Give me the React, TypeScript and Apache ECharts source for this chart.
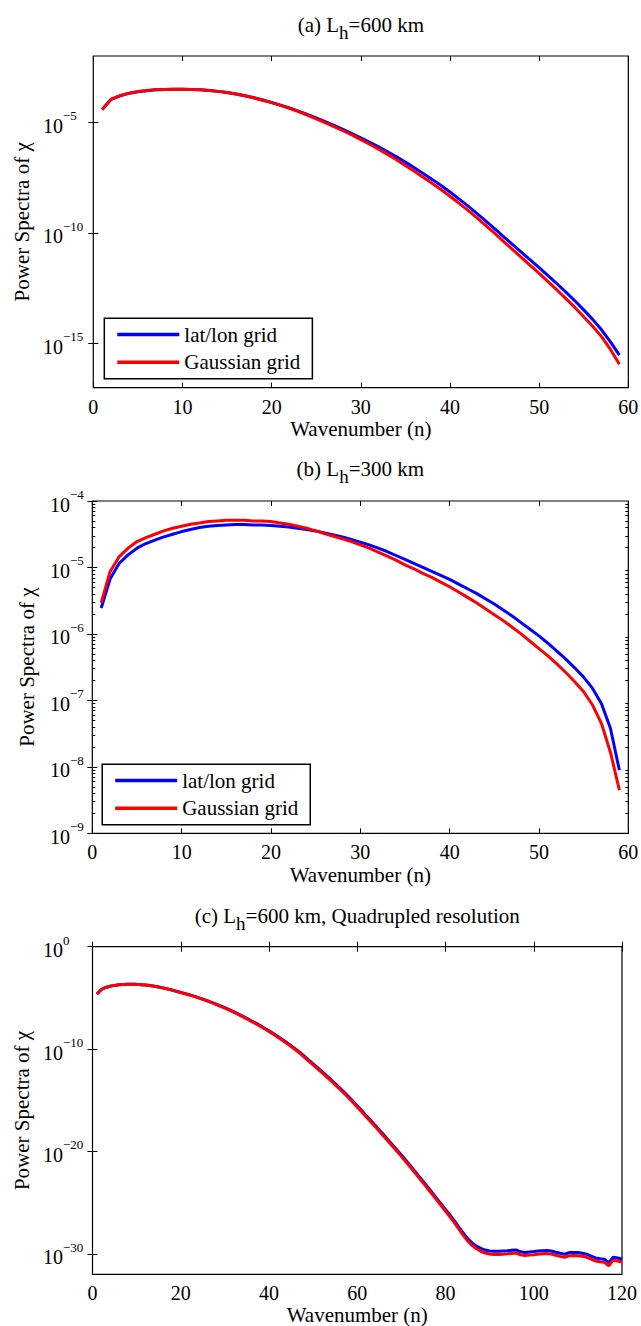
import React, { useEffect, useRef } from "react";
import * as echarts from "echarts";

// Power spectra of velocity potential chi, stored as log10 of the spectral power.
const seriesNames = ["lat/lon grid", "Gaussian grid"];

// (a) L_h = 600 km, wavenumbers 1..59
const latLonA = [
  -4.42, -3.96, -3.8, -3.69, -3.62, -3.57, -3.53, -3.51, -3.5, -3.5,
  -3.51, -3.53, -3.56, -3.6, -3.65, -3.72, -3.8, -3.89, -3.99, -4.1,
  -4.22, -4.35, -4.49, -4.64, -4.8, -4.97, -5.14, -5.32, -5.51, -5.7,
  -5.9, -6.11, -6.33, -6.56, -6.8, -7.05, -7.31, -7.58, -7.86, -8.15,
  -8.46, -8.78, -9.12, -9.46, -9.81, -10.17, -10.52, -10.87, -11.22, -11.57,
  -11.93, -12.3, -12.68, -13.07, -13.48, -13.91, -14.38, -14.93, -15.53,
];
const gaussianA = [
  -4.42, -3.95, -3.79, -3.68, -3.61, -3.56, -3.53, -3.51, -3.5, -3.5,
  -3.51, -3.53, -3.56, -3.6, -3.65, -3.72, -3.8, -3.89, -4.0, -4.11,
  -4.23, -4.37, -4.51, -4.67, -4.84, -5.01, -5.19, -5.38, -5.57, -5.78,
  -5.99, -6.21, -6.45, -6.69, -6.95, -7.21, -7.48, -7.76, -8.04, -8.34,
  -8.65, -8.97, -9.31, -9.66, -10.01, -10.38, -10.74, -11.11, -11.47, -11.83,
  -12.2, -12.58, -12.97, -13.37, -13.79, -14.22, -14.69, -15.27, -15.94,
];

// (b) L_h = 300 km, wavenumbers 1..59
const latLonB = [
  -5.61, -5.17, -4.94, -4.81, -4.71, -4.64, -4.59, -4.54, -4.5, -4.46,
  -4.43, -4.4, -4.38, -4.37, -4.36, -4.355, -4.355, -4.36, -4.36, -4.37,
  -4.38, -4.39, -4.41, -4.43, -4.45, -4.48, -4.51, -4.54, -4.58, -4.62,
  -4.66, -4.71, -4.76, -4.82, -4.88, -4.94, -5.0, -5.06, -5.12, -5.18,
  -5.25, -5.32, -5.39, -5.47, -5.55, -5.64, -5.73, -5.83, -5.93, -6.03,
  -6.14, -6.26, -6.38, -6.51, -6.65, -6.82, -7.05, -7.42, -8.05,
];
const gaussianB = [
  -5.53, -5.06, -4.84, -4.71, -4.61, -4.55, -4.5, -4.45, -4.41, -4.38,
  -4.35, -4.33, -4.31, -4.3, -4.29, -4.29, -4.29, -4.3, -4.3, -4.31,
  -4.33, -4.35, -4.38, -4.41, -4.45, -4.49, -4.53, -4.57, -4.61, -4.66,
  -4.71, -4.77, -4.83, -4.89, -4.96, -5.02, -5.09, -5.15, -5.22, -5.29,
  -5.37, -5.45, -5.53, -5.62, -5.71, -5.8, -5.9, -6.0, -6.11, -6.22,
  -6.33, -6.45, -6.58, -6.72, -6.87, -7.07, -7.35, -7.78, -8.35,
];

// (c) L_h = 600 km, quadrupled resolution, wavenumbers 1..120
const latLonC = [
  -4.62, -4.18, -3.98, -3.86, -3.78, -3.72, -3.69, -3.67, -3.67, -3.68,
  -3.71, -3.75, -3.8, -3.86, -3.93, -4.02, -4.12, -4.23, -4.35, -4.47,
  -4.58, -4.7, -4.83, -4.97, -5.12, -5.27, -5.43, -5.6, -5.78, -5.96,
  -6.15, -6.35, -6.56, -6.78, -7.0, -7.23, -7.47, -7.71, -7.96, -8.22,
  -8.49, -8.77, -9.06, -9.36, -9.67, -9.99, -10.32, -10.7, -11.08, -11.45,
  -11.82, -12.2, -12.58, -12.97, -13.37, -13.78, -14.2, -14.63, -15.08, -15.55,
  -16.01, -16.48, -16.95, -17.42, -17.9, -18.38, -18.87, -19.36, -19.85, -20.35,
  -20.86, -21.38, -21.9, -22.43, -22.96, -23.5, -24.04, -24.58, -25.12, -25.66,
  -26.21, -26.77, -27.36, -27.96, -28.5, -28.93, -29.25, -29.47, -29.63, -29.73,
  -29.76, -29.76, -29.73, -29.7, -29.66, -29.62, -29.8, -29.87, -29.82, -29.78,
  -29.73, -29.69, -29.68, -29.72, -29.84, -29.95, -30.04, -29.88, -29.86, -29.88,
  -29.94, -30.04, -30.22, -30.4, -30.48, -30.53, -30.86, -30.33, -30.4, -30.5,
];
const gaussianC = [
  -4.62, -4.18, -3.98, -3.86, -3.78, -3.72, -3.69, -3.67, -3.67, -3.68,
  -3.71, -3.75, -3.8, -3.87, -3.94, -4.03, -4.13, -4.24, -4.36, -4.48,
  -4.6, -4.72, -4.85, -4.99, -5.15, -5.3, -5.46, -5.64, -5.82, -6.0,
  -6.19, -6.4, -6.61, -6.83, -7.05, -7.29, -7.53, -7.77, -8.02, -8.28,
  -8.56, -8.84, -9.13, -9.43, -9.75, -10.07, -10.41, -10.79, -11.17, -11.55,
  -11.93, -12.31, -12.69, -13.09, -13.49, -13.9, -14.32, -14.75, -15.2, -15.67,
  -16.13, -16.6, -17.07, -17.55, -18.03, -18.51, -19.0, -19.49, -19.98, -20.48,
  -21.0, -21.52, -22.04, -22.57, -23.1, -23.64, -24.18, -24.73, -25.28, -25.83,
  -26.39, -26.96, -27.56, -28.17, -28.73, -29.18, -29.51, -29.75, -29.92, -30.02,
  -30.06, -30.06, -30.03, -30.0, -29.96, -29.92, -30.1, -30.17, -30.12, -30.08,
  -30.03, -29.99, -29.98, -30.02, -30.14, -30.25, -30.34, -30.18, -30.16, -30.18,
  -30.24, -30.34, -30.52, -30.7, -30.78, -30.83, -31.16, -30.63, -30.7, -30.8,
];

// Decade exponents that carry a labelled tick on each y axis
const decadeTicksA = [-15, -10, -5];
const decadeTicksB = [-9, -8, -7, -6, -5, -4];
const decadeTicksC = [-30, -20, -10, 0];

const titles = [
  "(a) L{sub|h}=600 km",
  "(b) L{sub|h}=300 km",
  "(c) L{sub|h}=600 km, Quadrupled resolution",
];

const FONT = "Liberation Serif";
const INK = "#000";
const BLUE = "#0000ff";
const RED = "#ff0000";
const FS = 21; // titles, axis names, legend
const TICK_FS = 20; // tick labels

const panels = [
  { left: 93.3, top: 56, width: 535, height: 331.7, yMin: -17, yMax: -2, xMax: 60, xStep: 10, labelLeft: 43, nameGap: 61, xNameGap: 31 },
  { left: 92.3, top: 501, width: 536, height: 332.3, yMin: -9, yMax: -4, xMax: 60, xStep: 10, labelLeft: 50, nameGap: 55, xNameGap: 31 },
  { left: 92.5, top: 946.7, width: 529.5, height: 327.6, yMin: -32, yMax: 0, xMax: 120, xStep: 20, labelLeft: 43, nameGap: 60, xNameGap: 28 },
];

const toPoints = (vals: number[]) => vals.map((v, i) => [i + 1, v]);

const powerLabel = (v: number) =>
  `{b|10}{s|${v === 0 ? "0" : (v < 0 ? "\u2212" : "") + Math.abs(v)}}`;

const labelRich = {
  b: { fontFamily: FONT, fontSize: TICK_FS, color: INK, padding: [7, 0, 0, 0] },
  s: { fontFamily: FONT, fontSize: 13, color: INK, padding: [0, 0, 13, 0] },
};

function xAxes(gridIndex: number) {
  const p = panels[gridIndex];
  const base = {
    gridIndex,
    type: "value",
    min: 0,
    max: p.xMax,
    interval: p.xStep,
    axisLine: { show: false },
    splitLine: { show: false },
    axisTick: { show: true, inside: true, length: 5, lineStyle: { color: INK, width: 1 } },
  };
  return [
    {
      ...base,
      position: "bottom",
      name: "Wavenumber (n)",
      nameLocation: "middle",
      nameGap: p.xNameGap,
      nameTextStyle: { fontFamily: FONT, fontSize: FS, color: INK },
      axisLabel: { show: true, margin: 9, fontFamily: FONT, fontSize: TICK_FS, color: INK },
    },
    { ...base, position: "top", axisLabel: { show: false } },
  ];
}

function yAxes(gridIndex: number, ticks: number[], minor?: number[]) {
  const p = panels[gridIndex];
  const base = {
    gridIndex,
    type: "value",
    min: p.yMin,
    max: p.yMax,
    axisLine: { show: false },
    splitLine: { show: false },
  };
  const majorTick = {
    show: true,
    inside: true,
    length: 5,
    customValues: ticks,
    lineStyle: { color: INK, width: 1 },
  };
  const axes: any[] = [
    {
      ...base,
      position: "left",
      name: "Power Spectra of \u03c7",
      nameLocation: "middle",
      nameRotate: 90,
      nameGap: p.nameGap,
      nameTextStyle: { fontFamily: FONT, fontSize: FS, color: INK },
      axisTick: majorTick,
      axisLabel: {
        show: true,
        align: "left",
        margin: p.left - p.labelLeft,
        customValues: ticks,
        formatter: powerLabel,
        rich: labelRich,
      },
    },
    { ...base, position: "right", axisTick: majorTick, axisLabel: { show: false } },
  ];
  if (minor) {
    const minorTick = {
      show: true,
      inside: true,
      length: 3,
      customValues: minor,
      lineStyle: { color: INK, width: 1 },
    };
    axes.push(
      { ...base, position: "left", axisTick: minorTick, axisLabel: { show: false } },
      { ...base, position: "right", axisTick: minorTick, axisLabel: { show: false } }
    );
  }
  return axes;
}

// Log-spaced minor ticks (2..9 x 10^e) for panel (b)
const minorTicksB: number[] = [];
for (let e = -9; e < -4; e++) {
  for (let k = 2; k <= 9; k++) minorTicksB.push(e + Math.log10(k));
}

function lineSeries(name: string, color: string, vals: number[], xi: number, yi: number) {
  return {
    name,
    type: "line",
    xAxisIndex: xi,
    yAxisIndex: yi,
    data: toPoints(vals),
    symbol: "none",
    showSymbol: false,
    smooth: false,
    lineStyle: { color, width: 3 },
    itemStyle: { color },
    z: color === RED ? 3 : 2,
  };
}

function legendFor(left: number, top: number) {
  return {
    show: true,
    left,
    top,
    orient: "vertical",
    data: seriesNames,
    icon: "rect",
    itemWidth: 62,
    itemHeight: 3.5,
    itemGap: 6.7,
    padding: [5.7, 12, 6, 13],
    borderColor: INK,
    borderWidth: 1.5,
    backgroundColor: "#fff",
    selectedMode: false,
    textStyle: { fontFamily: FONT, fontSize: FS, color: INK, lineHeight: 20 },
  };
}

export default function App() {
  const ref = useRef<HTMLDivElement>(null);

  useEffect(() => {
    if (!ref.current) return;
    const chart = echarts.init(ref.current, undefined, { renderer: "svg" });

    const titleCenters = [24, 468, 915];
    const option: any = {
      animation: false,
      backgroundColor: "#fff",
      title: titles.map((t, i) => ({
        text: t,
        left: panels[i].left + panels[i].width / 2,
        top: titleCenters[i] - 15.5,
        textAlign: "center",
        padding: 0,
        textStyle: {
          fontFamily: FONT,
          fontSize: FS,
          fontWeight: "normal",
          color: INK,
          rich: {
            sub: { fontFamily: FONT, fontSize: 19, color: INK, padding: [14, 0, 0, 0] },
          },
        },
      })),
      grid: panels.map((p) => ({
        left: p.left,
        top: p.top,
        width: p.width,
        height: p.height,
        show: true,
        borderColor: INK,
        borderWidth: 1.2,
        backgroundColor: "transparent",
        containLabel: false,
        outerBoundsMode: "none",
      })),
      xAxis: [...xAxes(0), ...xAxes(1), ...xAxes(2)],
      yAxis: [
        ...yAxes(0, decadeTicksA),
        ...yAxes(1, decadeTicksB, minorTicksB),
        ...yAxes(2, decadeTicksC),
      ],
      legend: [legendFor(104.3, 318.3), legendFor(102.2, 764.3)],
      series: [
        lineSeries(seriesNames[0], BLUE, latLonA, 0, 0),
        lineSeries(seriesNames[1], RED, gaussianA, 0, 0),
        lineSeries(seriesNames[0], BLUE, latLonB, 2, 2),
        lineSeries(seriesNames[1], RED, gaussianB, 2, 2),
        lineSeries(seriesNames[0], BLUE, latLonC, 4, 6),
        lineSeries(seriesNames[1], RED, gaussianC, 4, 6),
      ],
    };

    chart.setOption(option);
    return () => chart.dispose();
  }, []);

  return (
    <div
      ref={ref}
      style={{ position: "absolute", left: 0, top: 0, width: 641, height: 1326 }}
    />
  );
}
